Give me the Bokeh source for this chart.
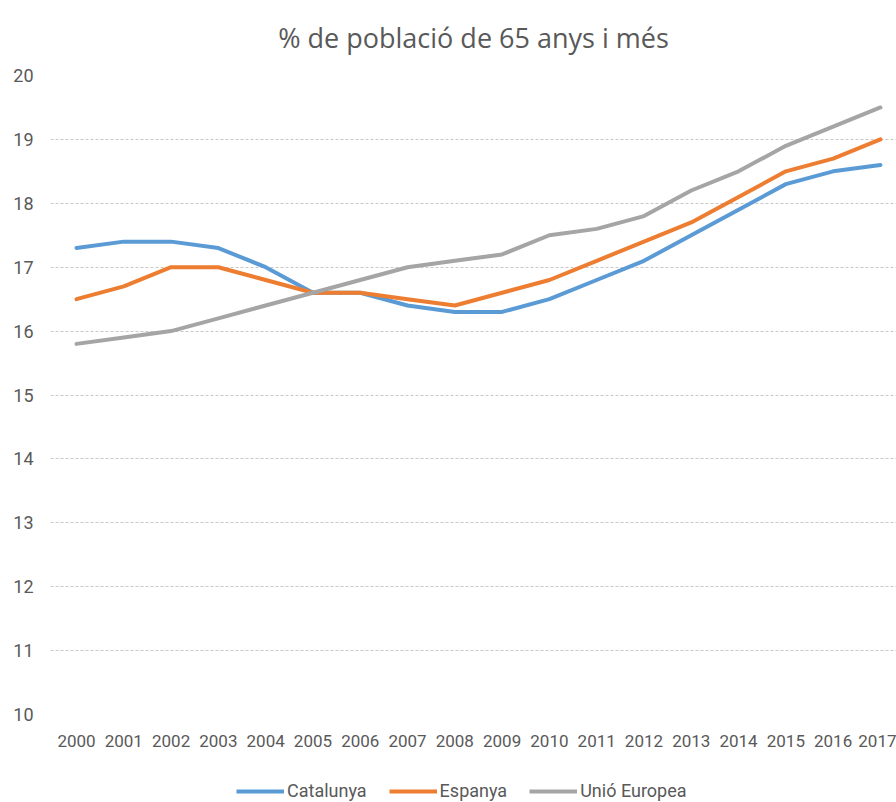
from bokeh.plotting import figure
from bokeh.layouts import column
from bokeh.models import Legend, LegendItem, FixedTicker, Range1d
from bokeh.embed import file_html
from bokeh.resources import INLINE

years = list(range(2000, 2018))
catalunya = [17.3, 17.4, 17.4, 17.3, 17.0, 16.6, 16.6, 16.4, 16.3, 16.3, 16.5, 16.8, 17.1, 17.5, 17.9, 18.3, 18.5, 18.6]
espanya = [16.5, 16.7, 17.0, 17.0, 16.8, 16.6, 16.6, 16.5, 16.4, 16.6, 16.8, 17.1, 17.4, 17.7, 18.1, 18.5, 18.7, 19.0]
ue = [15.8, 15.9, 16.0, 16.2, 16.4, 16.6, 16.8, 17.0, 17.1, 17.2, 17.5, 17.6, 17.8, 18.2, 18.5, 18.9, 19.2, 19.5]
y_ticks = list(range(10, 21))
series_names = ["Catalunya", "Espanya", "Unió Europea"]
colors = ["#5B9BD5", "#ED7D31", "#A5A5A5"]
all_series = [catalunya, espanya, ue]

p = figure(frame_width=846, frame_height=639, output_backend="svg", toolbar_location=None,
           x_range=Range1d(1999.45, 2017.34), y_range=Range1d(10, 20),
           title="% de població de 65 anys i més",
           min_border_left=50, min_border_right=0, min_border_top=74, min_border_bottom=65)
p.outline_line_color = None
p.background_fill_color = "white"
p.border_fill_color = "white"

p.title.align = "center"
p.title.vertical_align = "top"
p.title.text_font = "Open Sans"
p.title.text_font_style = "normal"
p.title.text_font_size = "27px"
p.title.text_color = "#595959"
p.title.standoff = 36
p.title.offset = -11

for data, c in zip(all_series, colors):
    p.line(years, data, line_color=c, line_width=4, line_join="round", line_cap="round")

p.xaxis.ticker = FixedTicker(ticks=years)
p.yaxis.ticker = FixedTicker(ticks=y_ticks)
for ax in (p.xaxis[0], p.yaxis[0]):
    ax.axis_line_color = None
    ax.major_tick_line_color = None
    ax.minor_tick_line_color = None
    ax.major_tick_out = 0
    ax.major_label_text_font = "Roboto"
    ax.major_label_text_color = "#595959"
p.xaxis.major_label_text_font_size = "17px"
p.yaxis.major_label_text_font_size = "18px"
p.xaxis.major_label_standoff = 20
p.yaxis.major_label_standoff = 17

p.xgrid.grid_line_color = None
p.ygrid.grid_line_color = "#C8C8C8"
p.ygrid.grid_line_dash = "3 2"
p.ygrid.grid_line_width = 1

# legend strip below the chart (its lines fall outside its view; only the legend shows)
leg = figure(width=896, height=24, output_backend="svg", toolbar_location=None,
             x_range=Range1d(0, 1), y_range=Range1d(0, 1),
             x_axis_type=None, y_axis_type=None,
             min_border_left=0, min_border_right=0, min_border_top=0, min_border_bottom=0)
leg.outline_line_color = None
leg.xgrid.visible = False
leg.ygrid.visible = False
leg_renderers = [leg.line(years, data, line_color=c, line_width=4) for data, c in zip(all_series, colors)]

legend = Legend(items=[LegendItem(label=n, renderers=[r]) for n, r in zip(series_names, leg_renderers)],
                orientation="horizontal", location=(186, 2),
                label_text_font="Roboto", label_text_font_size="18px", label_text_color="#595959",
                glyph_width=48, glyph_height=18, spacing=22, label_standoff=3,
                border_line_color=None, background_fill_alpha=0, margin=0, padding=0)
leg.add_layout(legend, "center")

layout = column(p, leg, spacing=0)
open("out.html", "w").write(file_html(layout, INLINE))
